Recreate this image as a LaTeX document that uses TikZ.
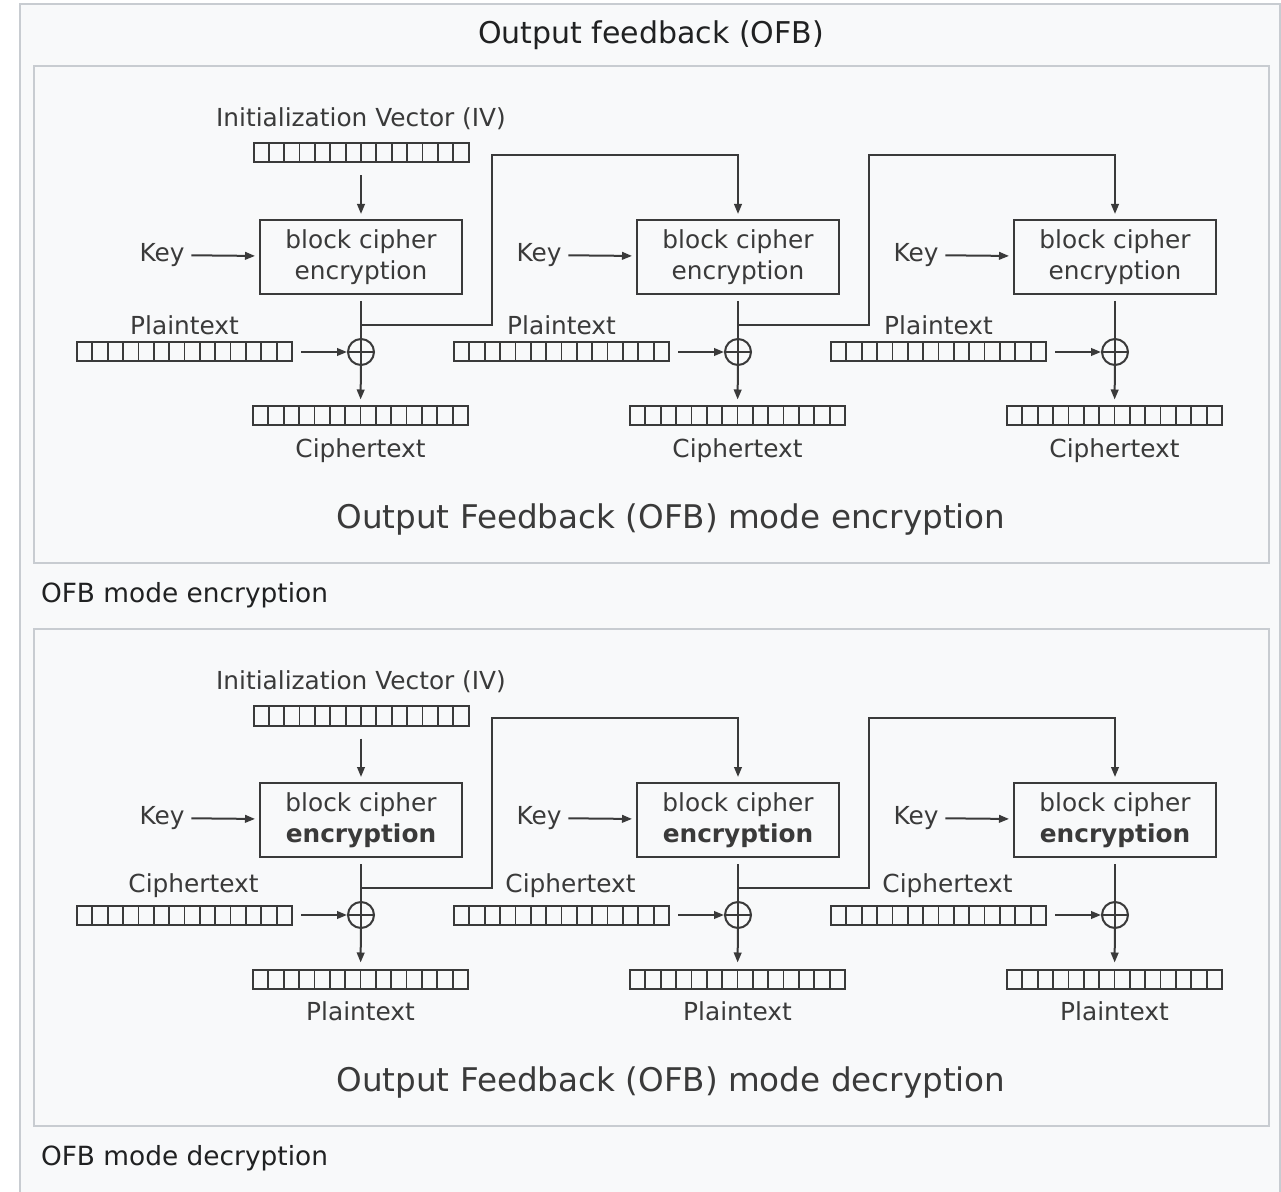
\documentclass[tikz,border=0pt]{standalone}
\usepackage{fontspec}
\setmainfont{DejaVu Sans}
\usetikzlibrary{positioning,arrows.meta}
\definecolor{ink}{HTML}{3A3A3A}
\definecolor{pagebg}{HTML}{F8F9FA}
\definecolor{rim}{HTML}{C8CCD1}
\definecolor{captxt}{HTML}{202122}

\begin{document}
\begin{tikzpicture}[x=0.5pt, y=-0.5pt, font=\fontsize{12.4}{15.5}\selectfont, line width=1pt]
  \tikzset{
    frame/.style={draw=rim, line width=1pt},
    arr/.style={-{Triangle[length=5pt,width=3.8pt]}, draw=ink},
    wire/.style={draw=ink},
    cipher/.style={draw=ink, text=ink, align=center, inner sep=0pt,
      minimum width=101pt, minimum height=37pt},
    reg/.style={draw=ink, inner sep=0pt, minimum width=107.5pt, minimum height=9.5pt,
      path picture={
        \foreach \k in {1,...,13}
          \draw[ink, line width=0.9pt] ([xshift=\k*7.679pt]path picture bounding box.south west)
            -- ([xshift=\k*7.679pt]path picture bounding box.north west);
      }},
    xor/.style={circle, draw=ink, inner sep=0pt, minimum size=13pt,
      path picture={
        \draw[ink] (path picture bounding box.west) -- (path picture bounding box.east);
        \draw[ink] (path picture bounding box.north) -- (path picture bounding box.south);
      }},
    lbl/.style={text=ink, inner sep=3pt}
  }
  \clip (0,0) rectangle (1281,1192);
  \fill[white] (0,0) rectangle (1281,1192);

  % Rahmen und Titel
  \draw[frame, fill=pagebg] (20,4) rectangle (1280,1210);
  \node[text=captxt, font=\fontsize{15}{18}\selectfont] (title) at (651,35) {Output feedback (OFB)};

  % zwei Felder: Verschluesselung und Entschluesselung
  \foreach \pn/\dy/\intxt/\outtxt/\mode/\wt/\lx in
      {e/0/Plaintext/Ciphertext/encryption/\mdseries/0,
       d/563/Ciphertext/Plaintext/decryption/\bfseries/9} {
    \begin{scope}[shift={(0,\dy)}]
      \draw[frame] (34,66) rectangle (1269,563);
      \node[anchor=west, inner sep=0pt, text=captxt, font=\fontsize{13.2}{16}\selectfont]
        (cap\pn) at (40,595) {OFB mode \mode};
      \node[text=ink, font=\fontsize{16.3}{19}\selectfont] (mode\pn) at (671,520)
        {Output Feedback (OFB) mode \mode};

      % IV
      \node[reg] (iv\pn) at (361,153) {};
      \node[lbl, above=3pt of iv\pn] (ivlbl\pn) {Initialization Vector (IV)};

      % drei Stufen
      \foreach \i in {1,2,3} {
        \pgfmathsetmacro\cx{361+377*(\i-1)}
        \node[cipher] (blk\pn\i) at (\cx,257) {block cipher\\{\wt encryption}};
        \node[lbl] (key\pn\i) at ({\cx-199},255) {Key};
        \node[xor] (xor\pn\i) at (\cx,352) {};
        \node[reg] (in\pn\i) at ({\cx-176.5},352) {};
        \node[lbl, above=0pt of in\pn\i, xshift=\lx*0.5pt] (inlbl\pn\i) {\intxt};
        \node[reg] (out\pn\i) at ({\cx-0.5},416) {};
        \node[lbl, below=2.5pt of out\pn\i] (outlbl\pn\i) {\outtxt};
        \coordinate (tap\pn\i) at (\cx,325);
        \coordinate (top\pn\i) at (\cx,155);
        \coordinate (fb\pn\i) at ({\cx+131},155);

        \draw[arr, shorten >=2pt] (key\pn\i) -- (blk\pn\i);
        \draw[wire, shorten <=3pt] (blk\pn\i) -- (xor\pn\i);
        \draw[arr, shorten <=4pt] (in\pn\i) -- (xor\pn\i);
        \draw[arr, shorten >=3pt] (xor\pn\i) -- (out\pn\i);
      }
      \draw[arr, shorten <=6pt, shorten >=2.5pt] (iv\pn) -- (blk\pn1);

      % Rueckkopplung
      \foreach \i [evaluate=\i as \j using int(\i+1)] in {1,2}
        \draw[arr, shorten >=2.5pt] (tap\pn\i) -| (fb\pn\i) -- (top\pn\j) -- (blk\pn\j);
    \end{scope}
  }
\end{tikzpicture}
\end{document}
